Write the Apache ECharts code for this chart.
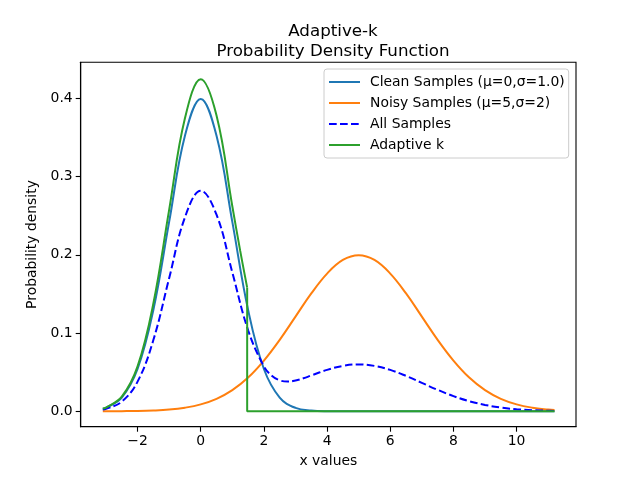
<!DOCTYPE html>
<html>
<head>
<meta charset="utf-8">
<script src="https://cdn.jsdelivr.net/npm/echarts@6/dist/echarts.min.js"></script>
<style>
html,body{margin:0;padding:0;background:#fff;}
#chart{width:640px;height:480px;}
</style>
</head>
<body>
<div id="chart"></div>
<script>
var xValues = [-3.1,-3,-2.5,-2,-1.5,-1,-0.5,0,0.5,1,1.5,2,2.5,3,3.5,4,4.5,5,5.5,6,6.5,7,7.5,8,8.5,9,9.5,10,10.5,11,11.2];
var cleanY = [0.0033,0.0044,0.0175,0.054,0.1295,0.242,0.352,0.399,0.352,0.242,0.1295,0.054,0.0175,0.0044,0.0009,0.0001,0,0,0,0,0,0,0,0,0,0,0,0,0,0,0];
var noisyY = [0.00006,0.00007,0.0002,0.0004,0.001,0.0022,0.0046,0.0088,0.0159,0.027,0.0431,0.0648,0.0913,0.121,0.1506,0.176,0.1934,0.1995,0.1934,0.176,0.1506,0.121,0.0913,0.0648,0.0431,0.027,0.0159,0.0088,0.0046,0.0022,0.0016];
var allX = [-3.1,-3,-2.5,-2,-1.5,-1,-0.5,0,0.5,1,1.5,2,2.25,2.5,2.75,3,3.25,3.5,4,4.5,5,5.5,6,6.5,7,7.5,8,8.5,9,9.5,10,10.5,11,11.2];
var allY = [0.0023,0.0031,0.0123,0.0379,0.091,0.1701,0.2478,0.2819,0.2512,0.1775,0.1036,0.0572,0.0455,0.0396,0.038,0.0394,0.0422,0.0458,0.0529,0.058,0.0599,0.058,0.0529,0.0452,0.0363,0.0274,0.0194,0.0129,0.0081,0.0048,0.0026,0.0014,0.0007,0.0005];
var adaptX = [-3.1,-3,-2.5,-2,-1.5,-1,-0.5,0,0.5,1,1.25,1.47];
var adaptY = [0.0035,0.0047,0.0186,0.0574,0.1378,0.2574,0.3744,0.4244,0.378,0.262,0.205,0.158];
var adaptTailX = [1.47,1.47,11.2];
var adaptTailY = [0.158,0,0];
var xTicks = [-2,0,2,4,6,8,10];
var yTicks = [0,0.1,0.2,0.3,0.4];

function pairs(xs,ys){
    var out=[];
    for(var i=0;i<xs.length;i++) out.push([xs[i],ys[i]]);
    return out;
}

var font='DejaVu Sans';
var myChart = echarts.init(document.getElementById('chart'));
var option = {
    animation:false,
    backgroundColor:'#fff',
    title:{
        text:'Adaptive-k\nProbability Density Function',
        left:328,
        top:17,
        textAlign:'center',
        textStyle:{fontFamily:font,fontSize:16.7,fontWeight:'normal',color:'#000',lineHeight:20}
    },
    grid:{left:80.7,right:64,top:62.3,bottom:53.3,show:true,borderColor:'#000',borderWidth:1.1,backgroundColor:'transparent'},
    legend:{
        orient:'vertical',
        left:324,
        top:69,
        padding:[6,4,6,4],
        itemGap:7,
        itemWidth:31,
        itemHeight:14,
        itemStyle:{opacity:0},
        backgroundColor:'rgba(255,255,255,0.8)',
        borderColor:'#cccccc',
        borderWidth:1,
        borderRadius:3,
        textStyle:{fontFamily:font,fontSize:13.9,color:'#000',padding:[0,0,0,5]},
        data:['Clean Samples (μ=0,σ=1.0)','Noisy Samples (μ=5,σ=2)','All Samples','Adaptive k']
    },
    xAxis:{
        type:'value',
        min:-3.8,
        max:11.88,
        name:'x values',
        nameLocation:'middle',
        nameGap:28,
        nameTextStyle:{fontFamily:font,fontSize:13.9,color:'#000'},
        axisLine:{show:true,onZero:false,lineStyle:{color:'#000',width:1.1}},
        axisTick:{show:true,inside:false,length:5,customValues:xTicks,lineStyle:{color:'#000',width:1.1}},
        axisLabel:{fontFamily:font,fontSize:13.9,color:'#000',margin:8,customValues:xTicks,
            formatter:function(v){return String(v).replace('-','\u2212');}},
        splitLine:{show:false}
    },
    yAxis:{
        type:'value',
        min:-0.0197,
        max:0.446,
        name:'Probability density',
        nameLocation:'middle',
        nameGap:39,
        nameTextStyle:{fontFamily:font,fontSize:13.9,color:'#000'},
        axisLine:{show:true,onZero:false,lineStyle:{color:'#000',width:1.1}},
        axisTick:{show:true,inside:false,length:5,customValues:yTicks,lineStyle:{color:'#000',width:1.1}},
        axisLabel:{fontFamily:font,fontSize:13.9,color:'#000',margin:8,customValues:yTicks,
            formatter:function(v){return v.toFixed(1);}},
        splitLine:{show:false}
    },
    series:[
        {
            name:'Clean Samples (μ=0,σ=1.0)',
            type:'line',
            data:pairs(xValues,cleanY),
            smooth:0.4,
            symbol:'none',
            itemStyle:{color:'#1f77b4'},
            lineStyle:{color:'#1f77b4',width:2}
        },
        {
            name:'Noisy Samples (μ=5,σ=2)',
            type:'line',
            data:pairs(xValues,noisyY),
            smooth:0.4,
            symbol:'none',
            itemStyle:{color:'#ff7f0e'},
            lineStyle:{color:'#ff7f0e',width:2}
        },
        {
            name:'All Samples',
            type:'line',
            data:pairs(allX,allY),
            smooth:0.4,
            symbol:'none',
            itemStyle:{color:'#0000ff'},
            lineStyle:{color:'#0000ff',width:2,type:[7.7,3.3]}
        },
        {
            name:'Adaptive k',
            type:'line',
            data:pairs(adaptX,adaptY),
            smooth:0.4,
            symbol:'none',
            itemStyle:{color:'#2ca02c'},
            lineStyle:{color:'#2ca02c',width:2}
        },
        {
            name:'Adaptive k',
            type:'line',
            data:pairs(adaptTailX,adaptTailY),
            symbol:'none',
            itemStyle:{color:'#2ca02c'},
            lineStyle:{color:'#2ca02c',width:2}
        }
    ]
};
myChart.setOption(option);
</script>
</body>
</html>
